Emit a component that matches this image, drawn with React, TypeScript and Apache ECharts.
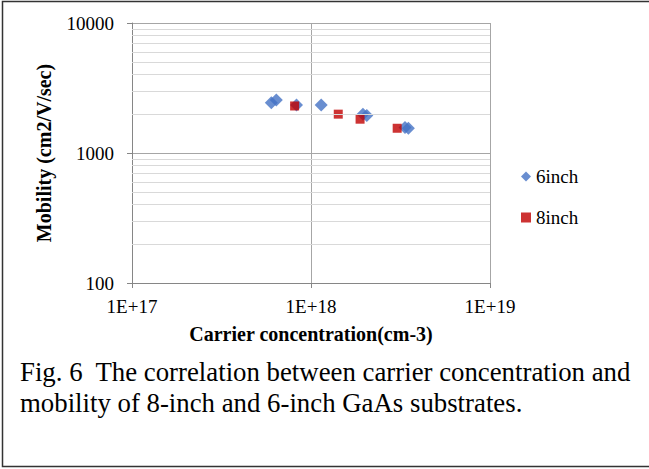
import React, { useEffect, useRef } from "react";
import * as echarts from "echarts";

const series6inch: [number, number][] = [
  [6.0e17, 2440],
  [6.4e17, 2560],
  [8.3e17, 2340],
  [1.14e18, 2340],
  [1.95e18, 1990],
  [2.05e18, 1940],
  [3.35e18, 1570],
  [3.5e18, 1550],
];
const series8inch: [number, number][] = [
  [8.1e17, 2300],
  [1.42e18, 1990],
  [1.88e18, 1820],
  [3.03e18, 1550],
];
const minorYValues = [200, 300, 400, 500, 600, 700, 800, 900, 2000, 3000, 4000, 5000, 6000, 7000, 8000, 9000];
const caption1 = "Fig. 6  The correlation between carrier concentration and";
const caption2 = "mobility of 8-inch and 6-inch GaAs substrates.";

const FONT = "Liberation Serif";

export default function App() {
  const ref = useRef<HTMLDivElement>(null);
  useEffect(() => {
    if (!ref.current) return;
    const chart = echarts.init(ref.current, null, { renderer: "svg" });
    chart.setOption({
      animation: false,
      backgroundColor: "#ffffff",
      textStyle: { fontFamily: FONT },
      grid: { left: 132, right: 159, top: 23, bottom: 186, containLabel: false },
      legend: {
        orient: "vertical",
        left: 516,
        top: 162,
        itemWidth: 10,
        itemHeight: 10,
        itemGap: 22,
        textStyle: { fontFamily: FONT, fontSize: 19, color: "#000", lineHeight: 19 },
        data: [
          { name: "6inch", icon: "diamond" },
          { name: "8inch", icon: "rect" },
        ],
      },
      xAxis: {
        type: "log",
        logBase: 10,
        min: 1e17,
        max: 1e19,
        name: "Carrier concentration(cm-3)",
        nameLocation: "middle",
        nameGap: 41,
        nameTextStyle: { fontFamily: FONT, fontSize: 20, fontWeight: "bold", color: "#000" },
        axisLine: { lineStyle: { color: "#868686", width: 1 } },
        axisTick: { show: true, length: 5, lineStyle: { color: "#868686" } },
        axisLabel: {
          fontFamily: FONT,
          fontSize: 19,
          color: "#000",
          margin: 14,
          formatter: (v: number) => "1E+" + Math.round(Math.log10(v)),
        },
        splitLine: { show: true, lineStyle: { color: "#a6a6a6", width: 1 } },
      },
      yAxis: {
        type: "log",
        logBase: 10,
        min: 100,
        max: 10000,
        name: "Mobility (cm2/V/sec)",
        nameLocation: "middle",
        nameGap: 78,
        nameTextStyle: { fontFamily: FONT, fontSize: 20, fontWeight: "bold", color: "#000" },
        axisLine: { show: true, lineStyle: { color: "#868686", width: 1 } },
        axisTick: { show: true, length: 5, lineStyle: { color: "#868686" } },
        axisLabel: {
          fontFamily: FONT,
          fontSize: 19,
          color: "#000",
          margin: 18,
          formatter: (v: number) => String(Math.round(v)),
        },
        splitLine: { show: true, lineStyle: { color: "#a6a6a6", width: 1 } },
      },
      series: [
        {
          name: "minor",
          type: "scatter",
          data: [],
          silent: true,
          z: 1,
          markLine: {
            silent: true,
            symbol: "none",
            animation: false,
            label: { show: false },
            lineStyle: { color: "#d9d9d9", width: 1, type: "solid" },
            data: minorYValues.map((v) => ({ yAxis: v })),
          },
        },
        {
          name: "6inch",
          type: "scatter",
          symbol: "diamond",
          symbolSize: 13,
          itemStyle: { color: "#4472C4" },
          data: series6inch,
          z: 3,
        },
        {
          name: "8inch",
          type: "scatter",
          symbol: "rect",
          symbolSize: 9,
          itemStyle: { color: "#C00000" },
          data: series8inch,
          z: 4,
        },
      ],
      graphic: [
        {
          type: "rect",
          shape: { x: 2.5, y: 1.5, width: 700, height: 465 },
          style: { fill: "none", stroke: "#333", lineWidth: 1.5 },
          silent: true,
        },
        {
          type: "text",
          x: 20,
          y: 372,
          style: {
            text: caption1,
            fontFamily: FONT,
            fontSize: 26.8,
            fill: "#000",
            verticalAlign: "middle",
            align: "left",
          },
        },
        {
          type: "text",
          x: 20,
          y: 403,
          style: {
            text: caption2,
            fontFamily: FONT,
            fontSize: 26.8,
            fill: "#000",
            verticalAlign: "middle",
            align: "left",
          },
        },
      ],
    });
    return () => chart.dispose();
  }, []);
  return (
    <div
      ref={ref}
      style={{ position: "fixed", left: 0, top: 0, width: 649, height: 469 }}
    />
  );
}
